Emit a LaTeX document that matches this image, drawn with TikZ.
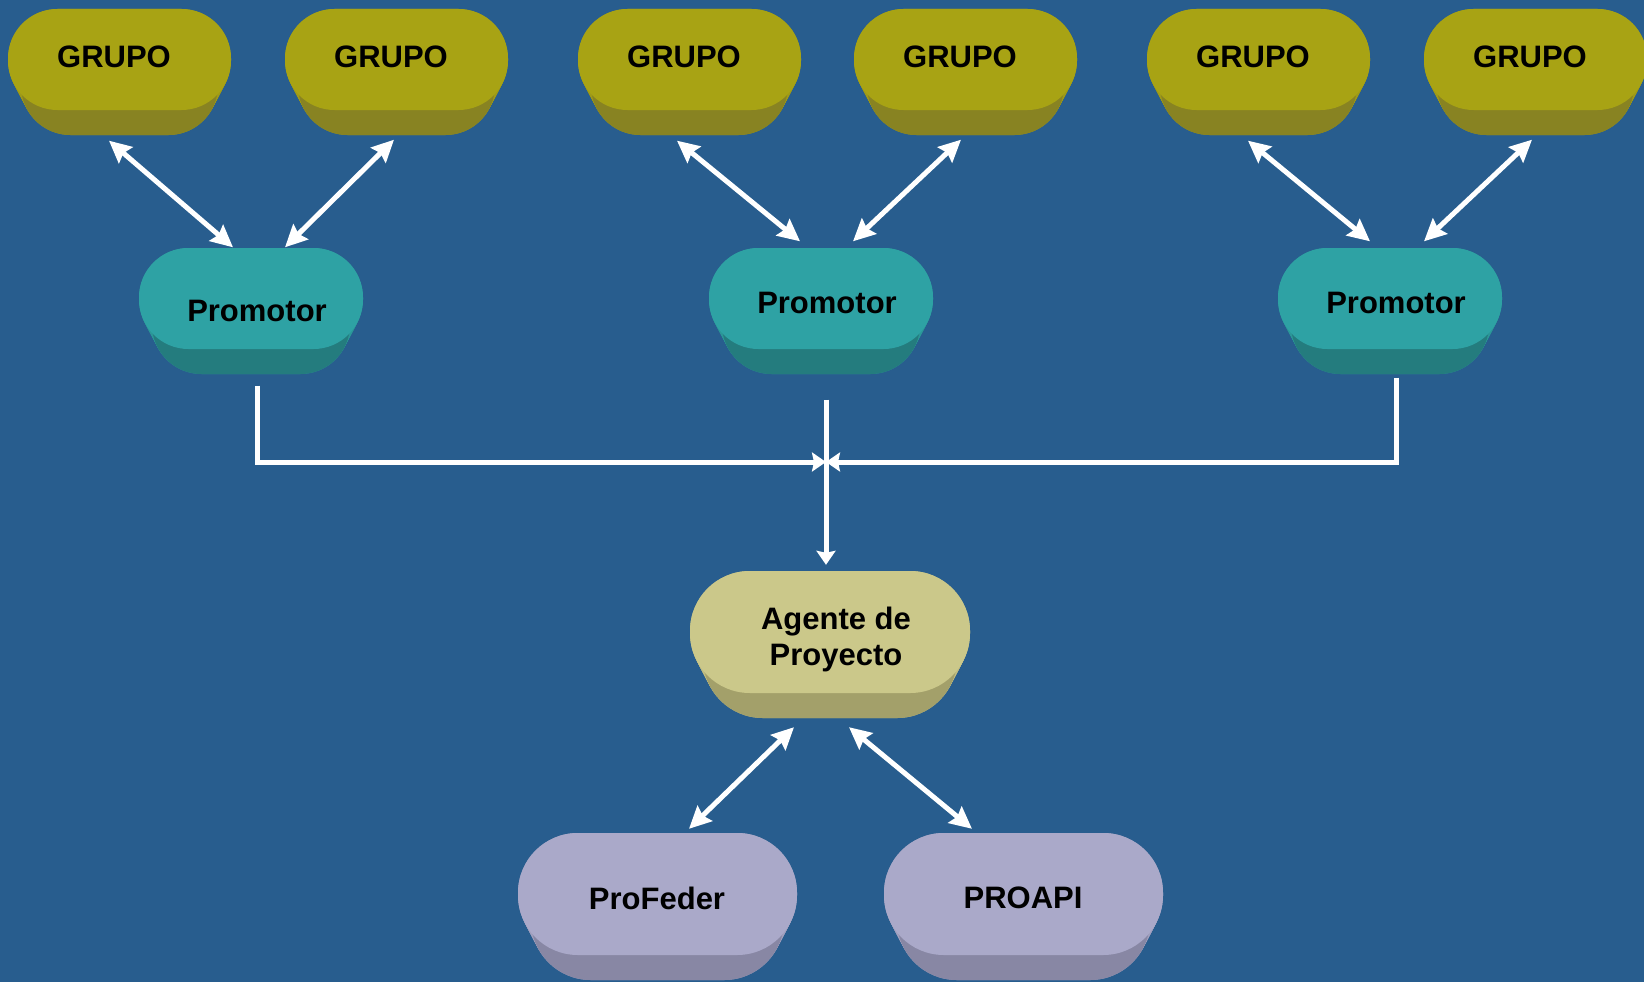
\documentclass[tikz,border=0pt]{standalone}
\usepackage{fontspec}
\setmainfont{Liberation Sans}
\usetikzlibrary{arrows.meta}

\definecolor{bgblue}{RGB}{40,93,142}
\definecolor{grface}{RGB}{168,163,20}
\definecolor{grside}{RGB}{136,131,34}
\definecolor{prface}{RGB}{46,162,164}
\definecolor{prside}{RGB}{36,124,126}
\definecolor{agface}{RGB}{203,200,138}
\definecolor{agside}{RGB}{163,160,106}
\definecolor{pfface}{RGB}{170,169,201}
\definecolor{pfside}{RGB}{136,135,164}

% 3d pill: left, top, width, face height, face colour, side colour
\newcommand{\pillbox}[6]{%
  \foreach \n in {0,1,...,20}{
    \pgfmathsetmacro{\tt}{\n/20}
    \fill[#6!30!#5, rounded corners=#4*0.49pt]
      ({#1+13*\tt},{#2+25*\tt}) rectangle ({#1+#3-13*\tt},{#2+#4+25*\tt});
  }
  \fill[#6, rounded corners=#4*0.49pt] ({#1+13},{#2+25}) rectangle ({#1+#3-13},{#2+#4+25});
  \fill[#5, rounded corners=#4*0.49pt] (#1,#2) rectangle ({#1+#3},{#2+#4});
}

\begin{document}
\begin{tikzpicture}[x=1pt, y=-1pt,
    lbl/.style = {inner sep=0pt, align=center, text=black,
      font=\fontsize{31}{36}\selectfont\bfseries},
    grupobox/.style = {lbl, minimum width=223pt, minimum height=101pt},
    promotorbox/.style = {lbl, minimum width=224pt, minimum height=101pt},
    agentebox/.style = {lbl, minimum width=280pt, minimum height=122pt},
    progbox/.style = {lbl, minimum width=279pt, minimum height=122pt},
    dblarrow/.style = {draw, white, line width=5pt,
      {Stealth[length=22pt,width=21pt,inset=3pt]}-{Stealth[length=22pt,width=21pt,inset=3pt]}},
    joinline/.style = {draw, white, line width=5pt,
      -{Stealth[length=14pt,width=19pt,inset=2pt]}}]

    \useasboundingbox (0,0) rectangle (1644,982);
    \fill[bgblue] (0,0) rectangle (1644,982);

    % boxes
    \pillbox{8}{9}{223}{101}{grface}{grside}
    \pillbox{285}{9}{223}{101}{grface}{grside}
    \pillbox{578}{9}{223}{101}{grface}{grside}
    \pillbox{854}{9}{223}{101}{grface}{grside}
    \pillbox{1147}{9}{223}{101}{grface}{grside}
    \pillbox{1424}{9}{223}{101}{grface}{grside}
    \pillbox{139}{248}{224}{101}{prface}{prside}
    \pillbox{709}{248}{224}{101}{prface}{prside}
    \pillbox{1278}{248}{224}{101}{prface}{prside}
    \pillbox{690}{571}{280}{122}{agface}{agside}
    \pillbox{518}{833}{279}{122}{pfface}{pfside}
    \pillbox{884}{833}{279}{122}{pfface}{pfside}

    \node at (114,57) [grupobox] (g1) {GRUPO};
    \node at (391,57) [grupobox] (g2) {GRUPO};
    \node at (684,57) [grupobox] (g3) {GRUPO};
    \node at (960,57) [grupobox] (g4) {GRUPO};
    \node at (1253,57) [grupobox] (g5) {GRUPO};
    \node at (1530,57) [grupobox] (g6) {GRUPO};
    \node at (257,311) [promotorbox] (p1) {Promotor};
    \node at (827,303) [promotorbox] (p2) {Promotor};
    \node at (1396,303) [promotorbox] (p3) {Promotor};
    \node at (836,639) [agentebox] (ag) {Agente de\\Proyecto};
    \node at (657,898) [progbox] (pf) {ProFeder};
    \node at (1023,898) [progbox] (pa) {PROAPI};
    \coordinate (hub) at (826,462);

    \path[dblarrow] ([shift={(-5,33)}]g1.south) -- ([shift={(-24,-13)}]p1.north);
    \path[dblarrow] ([shift={(3,32)}]g2.south) -- ([shift={(28,-13)}]p1.north);
    \path[dblarrow] ([shift={(-7,33)}]g3.south) -- ([shift={(-27,-11)}]p2.north);
    \path[dblarrow] ([shift={(1,32)}]g4.south) -- ([shift={(26,-11)}]p2.north);
    \path[dblarrow] ([shift={(-5,33)}]g5.south) -- ([shift={(-26,-11)}]p3.north);
    \path[dblarrow] ([shift={(2,32)}]g6.south) -- ([shift={(28,-11)}]p3.north);
    \path[dblarrow] ([shift={(-42,27)}]ag.south) -- ([shift={(32,-8)}]pf.north);
    \path[dblarrow] ([shift={(13,27)}]ag.south) -- ([shift={(-51,-8)}]pa.north);

    \path[joinline] ([shift={(0,24)}]p1.south) |- (hub);
    \path[joinline] ([shift={(0,24)}]p3.south) |- (hub);
    \path[joinline] ([shift={(-1,46)}]p2.south) -- ([shift={(-10,-13)}]ag.north);

\end{tikzpicture}
\end{document}
